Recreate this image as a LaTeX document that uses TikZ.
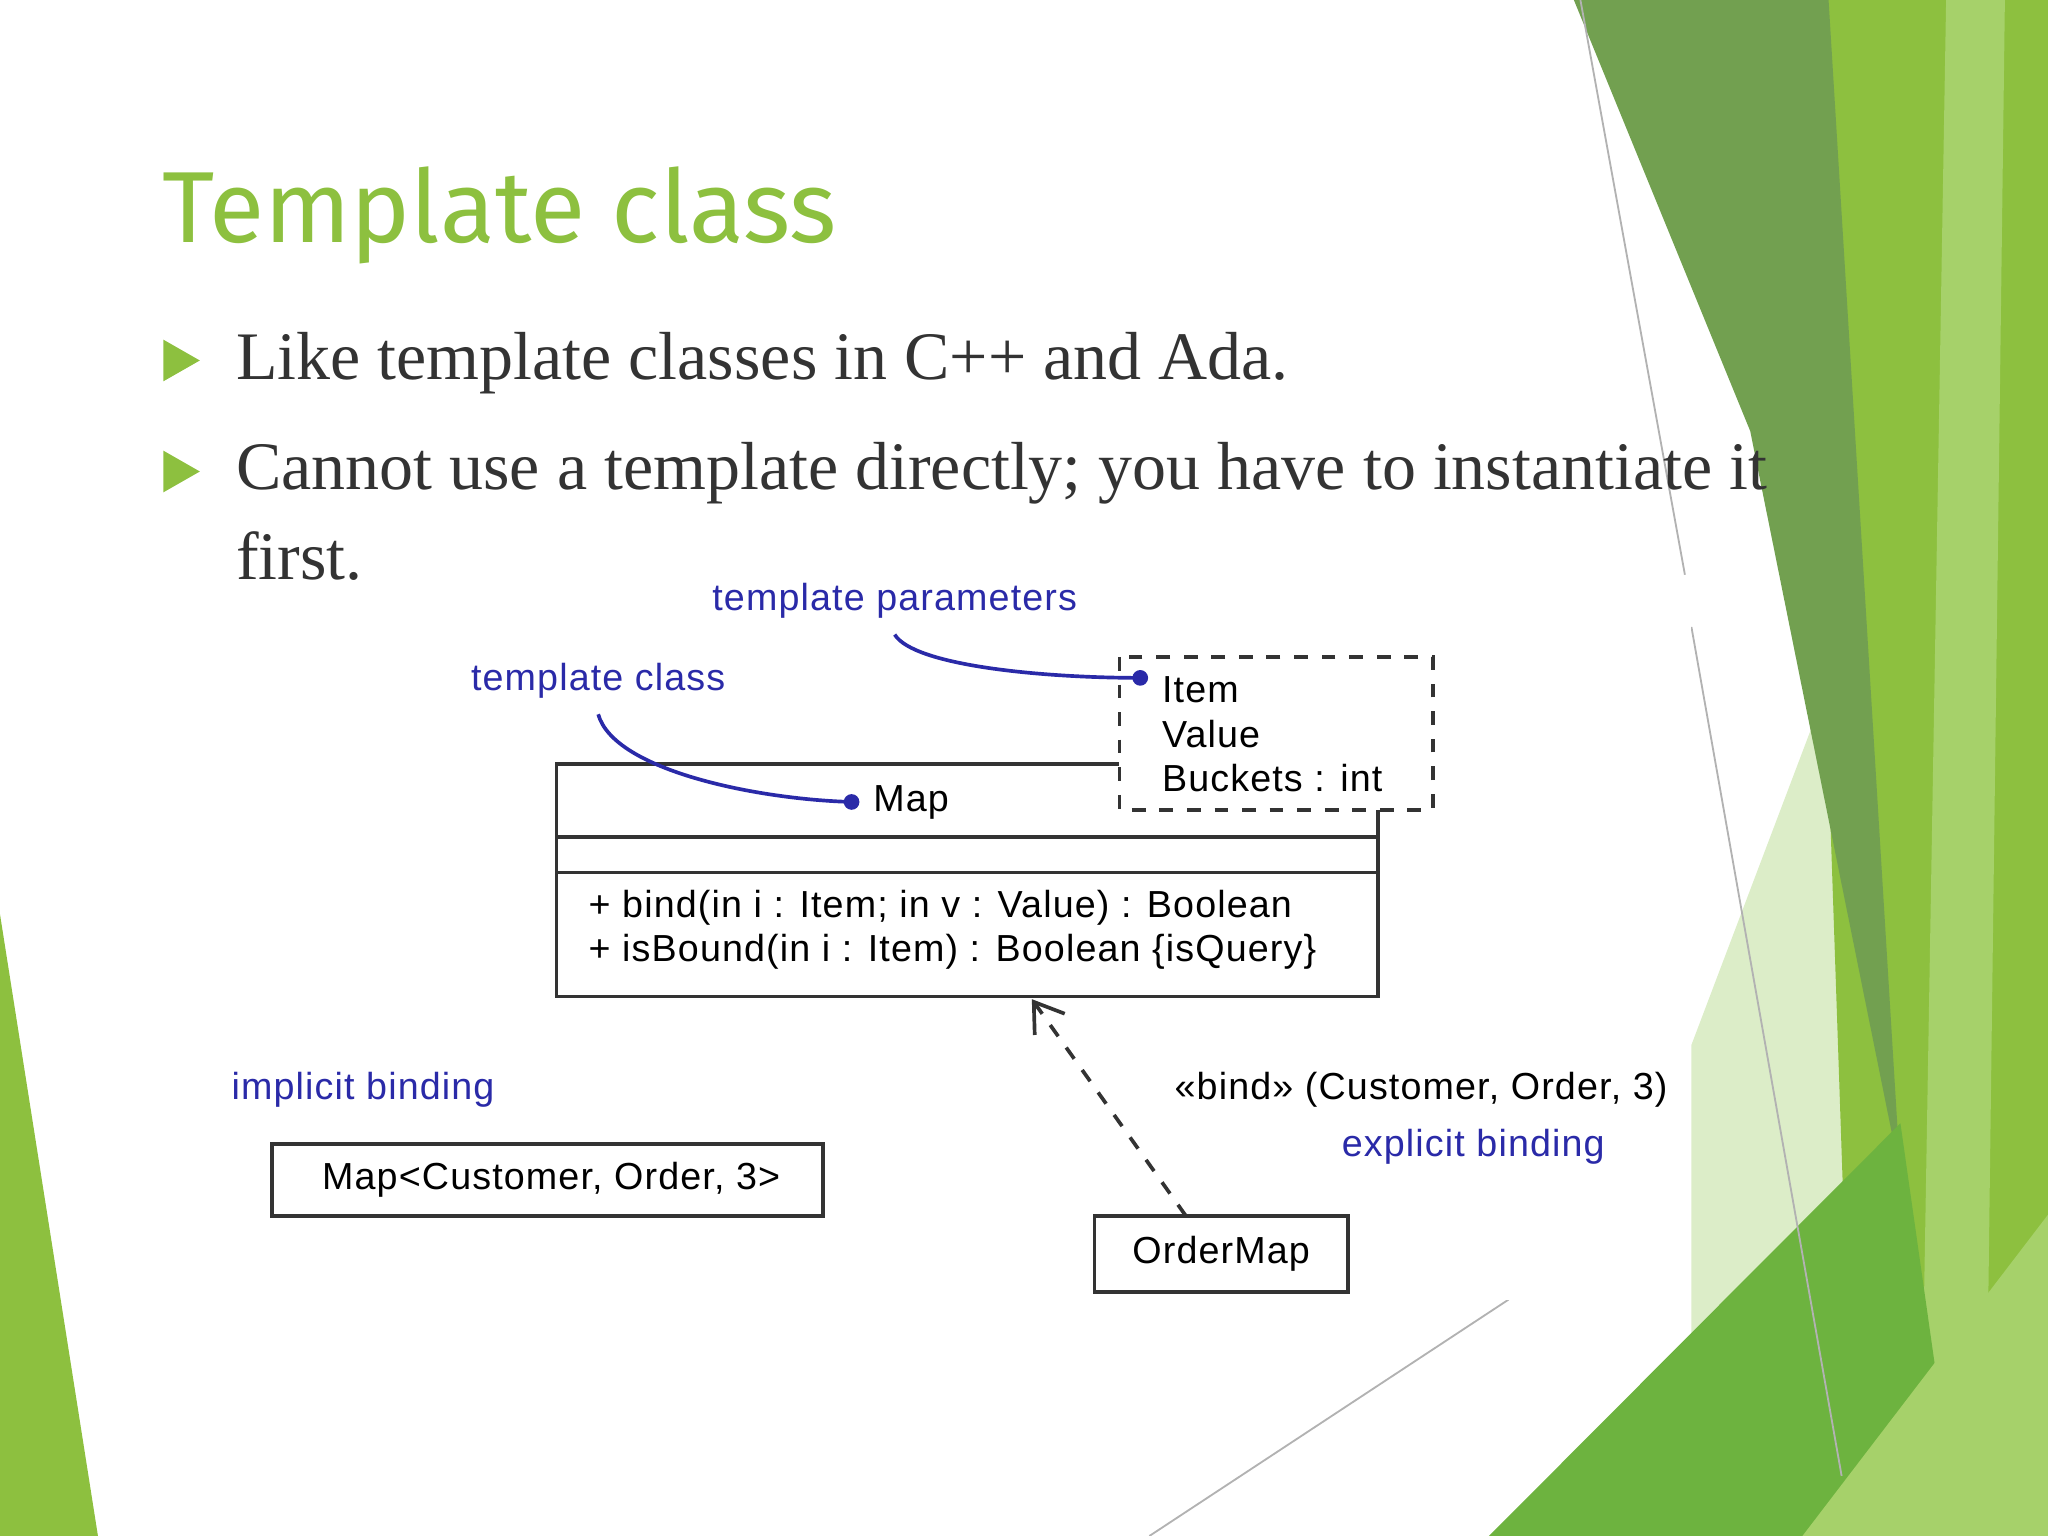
\documentclass[tikz,border=0pt]{standalone}
\usepackage{fontspec}
\setmainfont{Liberation Serif}
\newfontfamily\diag[LetterSpace=3]{Liberation Sans}
\newfontfamily\ttl{Fira Sans}
\usetikzlibrary{arrows.meta}
\definecolor{gA}{HTML}{8DC03F}
\definecolor{gB}{HTML}{72A050}
\definecolor{gC}{HTML}{A6D16A}
\definecolor{gD}{HTML}{6DB33F}
\definecolor{gE}{HTML}{DCEDC8}
\definecolor{lbl}{HTML}{2A2AA8}
\begin{document}
\begin{tikzpicture}[x=0.01cm,y=-0.01cm,
  lab/.style={font=\diag\fontsize{8.2}{10}\selectfont,text=lbl},
  dt/.style={font=\diag\fontsize{8.2}{10}\selectfont,anchor=west,inner sep=0},
  bx/.style={draw=black!80,line width=0.8pt},
  bl/.style={fill=gA}]
\useasboundingbox (0,0) rectangle (1568,1176);
% background shapes
\fill[gE] (1295,800) -- (1420,470) -- (1470,1176) -- (1295,1176) -- cycle;
\fill[gA] (1380,0) -- (1568,0) -- (1568,1176) -- (1420,1176) -- cycle;
\fill[gB] (1205,0) -- (1400,0) -- (1455,900) -- (1340,330) -- cycle;
\fill[gC] (1490,0) -- (1535,0) -- (1520,1176) -- (1470,1176) -- cycle;
\fill[gD] (1140,1176) -- (1455,860) -- (1500,1176) -- cycle;
\fill[gC] (1380,1176) -- (1568,930) -- (1568,1176) -- cycle;
\fill[gA] (0,700) -- (75,1176) -- (0,1176) -- cycle;
\draw[gray!60,line width=0.4pt] (1210,0) -- (1290,440) (1295,480) -- (1410,1130) (880,1176) -- (1155,995);
\fill[white] (165,440) rectangle (1295,995);
% title and bullets
\node[anchor=west,text=gA,font=\ttl\fontsize{22}{26}\selectfont] (t) at (112,165) {Template class};
\fill[bl] (125,260) -- (153,276) -- (125,292) -- cycle;
\fill[bl] (125,345) -- (153,361) -- (125,377) -- cycle;
\node[anchor=west,text=black!80,font=\fontsize{14.8}{18}\selectfont,inner sep=0] (b1) at (180,278) {Like template classes in C++ and Ada.};
\node[anchor=west,text=black!80,font=\fontsize{14.8}{18}\selectfont,inner sep=0] (b2) at (180,362) {Cannot use a template directly; you have to instantiate it};
\node[anchor=west,text=black!80,font=\fontsize{14.8}{18}\selectfont,inner sep=0] (b3) at (180,426) {first.};
% Map class
\draw[bx,fill=white] (426,585) rectangle (1055,763);
\draw[bx] (426,641) -- (1055,641) (426,668) -- (1055,668);
\node[dt] (map) at (668,614) {Map};
\node[dt] (m1) at (450,695) {+ bind(in i : Item; in v : Value) : Boolean};
\node[dt] (m2) at (450,729) {+ isBound(in i : Item) : Boolean \{isQuery\}};
% template params
\draw[bx,dashed,fill=white] (857,503) rectangle (1097,620);
\node[dt] (p1) at (889,528) {Item};
\node[dt] (p2) at (889,562) {Value};
\node[dt] (p3) at (889,596) {Buckets : int};
% labels
\node[lab] (tp) at (685,460) {template parameters};
\node[lab] (tc) at (458,521) {template class};
\node[lab] (ib) at (278,834) {implicit binding};
\node[lab] (eb) at (1128,878) {explicit binding};
\node[font=\diag\fontsize{8.2}{10}\selectfont] (bd) at (1088,834) {«bind» (Customer, Order, 3)};
\coordinate (d1) at (652,614);
\coordinate (d2) at (873,519);
\fill[lbl] (d1) circle (6);
\fill[lbl] (d2) circle (6);
\draw[lbl,line width=0.8pt] (tc.south) .. controls (470,590) and (580,612) .. (d1);
\draw[lbl,line width=0.8pt] (tp.south) .. controls (700,510) and (800,519) .. (d2);
% instantiations
\draw[bx] (208,876) rectangle (630,931);
\node[font=\diag\fontsize{8.2}{10}\selectfont] (mc) at (422,903) {Map<Customer, Order, 3>};
\draw[bx] (838,931) rectangle (1032,989);
\node[font=\diag\fontsize{8.2}{10}\selectfont] (om) at (935,960) {OrderMap};
\coordinate (tail) at (908,931);
\coordinate (tip) at (790,765);
\draw[black!80,line width=0.8pt,dashed,-{Straight Barb[length=6pt,width=8pt]}] (tail) -- (tip);
\end{tikzpicture}
\end{document}
